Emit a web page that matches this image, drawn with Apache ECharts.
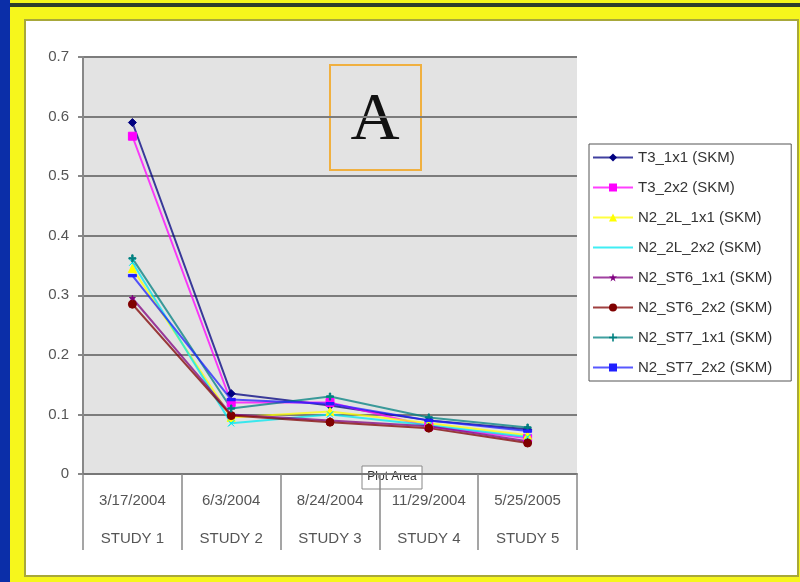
<!DOCTYPE html>
<html>
<head>
<meta charset="utf-8">
<script src="https://cdn.jsdelivr.net/npm/echarts@6/dist/echarts.min.js"></script>
<style>
  html, body { margin: 0; padding: 0; background: #0b2ea8; }
  #chart { width: 800px; height: 582px; }
</style>
</head>
<body>
<div id="chart"></div>
<script>
// Survey dates and study labels for the two-level category axis
const dates = ['3/17/2004', '6/3/2004', '8/24/2004', '11/29/2004', '5/25/2005'];
const studies = ['STUDY 1', 'STUDY 2', 'STUDY 3', 'STUDY 4', 'STUDY 5'];
const yTicks = { min: 0, max: 0.7, interval: 0.1 };

// Measured values per sensor configuration
const t3_1x1    = [0.590, 0.135, 0.115, 0.090, 0.075];
const t3_2x2    = [0.567, 0.120, 0.120, 0.080, 0.060];
const n2_2l_1x1 = [0.345, 0.095, 0.105, 0.085, 0.065];
const n2_2l_2x2 = [0.355, 0.085, 0.100, 0.082, 0.062];
const n2_st6_1x1 = [0.295, 0.100, 0.090, 0.080, 0.055];
const n2_st6_2x2 = [0.285, 0.098, 0.087, 0.077, 0.052];
const n2_st7_1x1 = [0.362, 0.110, 0.130, 0.095, 0.078];
const n2_st7_2x2 = [0.333, 0.125, 0.118, 0.090, 0.072];

const seriesNames = [
  'T3_1x1 (SKM)', 'T3_2x2 (SKM)', 'N2_2L_1x1 (SKM)', 'N2_2L_2x2 (SKM)',
  'N2_ST6_1x1 (SKM)', 'N2_ST6_2x2 (SKM)', 'N2_ST7_1x1 (SKM)', 'N2_ST7_2x2 (SKM)'
];
const seriesData = [t3_1x1, t3_2x2, n2_2l_1x1, n2_2l_2x2, n2_st6_1x1, n2_st6_2x2, n2_st7_1x1, n2_st7_2x2];
const seriesColors = ['#000080', '#ff00ff', '#ffff00', '#00e8f0', '#800080', '#800000', '#008080', '#2020ff'];
const seriesSymbols = [
  'diamond', 'rect', 'triangle',
  'path://M0,0 L10,10 M10,0 L0,10 Z',
  'path://M5,0 L6.2,3.8 L10,3.8 L6.9,6.1 L8.1,10 L5,7.6 L1.9,10 L3.1,6.1 L0,3.8 L3.8,3.8 Z',
  'circle',
  'path://M4,0 H6 V4 H10 V6 H6 V10 H4 V6 H0 V4 H4 Z',
  'path://M0,0 H10 V3 H0 Z'
];
const symbolSizes = [8, 8, 8, 6, 6, 8, 7, 8];

const FONT = "'Liberation Sans', Arial, sans-serif";

const chart = echarts.init(document.getElementById('chart'));

const series = seriesNames.map((name, i) => ({
  name: name,
  type: 'line',
  data: seriesData[i],
  symbol: seriesSymbols[i],
  symbolSize: symbolSizes[i],
  symbolKeepAspect: true,
  showAllSymbol: true,
  lineStyle: { color: seriesColors[i], width: 2, opacity: 0.75 },
  itemStyle: { color: seriesColors[i], borderColor: seriesColors[i] },
  z: 3
}));

chart.setOption({
  animation: false,
  backgroundColor: 'transparent',
  graphic: [
    // Frame: blue strip, yellow border with dark rule, white panel
    { type: 'rect', shape: { x: 0, y: 0, width: 800, height: 582 }, style: { fill: '#0b2ea8' }, silent: true, z: -20 },
    { type: 'rect', shape: { x: 10, y: 0, width: 790, height: 582 }, style: { fill: '#f6f61c' }, silent: true, z: -19 },
    { type: 'rect', shape: { x: 10, y: 3, width: 790, height: 4 }, style: { fill: '#2f3d2c' }, silent: true, z: -18 },
    { type: 'rect', shape: { x: 25, y: 20, width: 773, height: 556 }, style: { fill: '#ffffff', stroke: '#a8a83a', lineWidth: 2 }, silent: true, z: -17 },
    // Boxed panel letter
    {
      type: 'group', z: 50, silent: true,
      children: [
        { type: 'rect', shape: { x: 330, y: 65, width: 91, height: 105 }, style: { fill: 'rgba(0,0,0,0)', stroke: '#f0b040', lineWidth: 2 } },
        { type: 'text', x: 375, y: 121, style: { text: 'A', font: "68px 'Liberation Serif', 'Times New Roman', serif", fill: '#111111', textAlign: 'center', textVerticalAlign: 'middle' } }
      ]
    },
    // Small "Plot Area" tag sitting on the baseline
    {
      type: 'group', z: 50, silent: true,
      children: [
        { type: 'rect', shape: { x: 362, y: 466, width: 60, height: 23 }, style: { fill: '#ffffff', stroke: '#888888', lineWidth: 1 } },
        { type: 'text', x: 392, y: 477, style: { text: 'Plot Area', font: "12px " + FONT, fill: '#333333', textAlign: 'center', textVerticalAlign: 'middle' } }
      ]
    }
  ],
  grid: {
    left: 83, top: 57, width: 494, height: 417,
    show: true, backgroundColor: '#e3e3e3', borderWidth: 0
  },
  legend: {
    orient: 'vertical',
    left: 589, top: 144,
    padding: [6, 19, 6, 3],
    itemWidth: 40, itemHeight: 10, itemGap: 15,
    borderColor: '#555555', borderWidth: 1,
    backgroundColor: '#ffffff',
    textStyle: { fontFamily: FONT, fontSize: 15, color: '#333333' },
    data: seriesNames
  },
  xAxis: [
    {
      type: 'category', data: dates, position: 'bottom', boundaryGap: true,
      axisLine: { show: true, lineStyle: { color: '#777777', width: 2 } },
      axisTick: { show: true, interval: 0, length: 76, lineStyle: { color: '#888888', width: 1.5 } },
      axisLabel: { interval: 0, margin: 19, fontFamily: FONT, fontSize: 15, color: '#555555' }
    },
    {
      type: 'category', data: studies, position: 'bottom', boundaryGap: true,
      axisLine: { show: false }, axisTick: { show: false },
      axisLabel: { interval: 0, margin: 57, fontFamily: FONT, fontSize: 15, color: '#555555' }
    }
  ],
  yAxis: {
    type: 'value', min: yTicks.min, max: yTicks.max, interval: yTicks.interval,
    axisLine: { show: true, lineStyle: { color: '#888888', width: 2 } },
    axisTick: { show: true, length: 5, lineStyle: { color: '#888888', width: 2 } },
    axisLabel: { margin: 14, fontFamily: FONT, fontSize: 15, color: '#555555' },
    splitLine: { show: true, lineStyle: { color: '#7c7c7c', width: 2 } }
  },
  series: series
});
</script>
</body>
</html>
